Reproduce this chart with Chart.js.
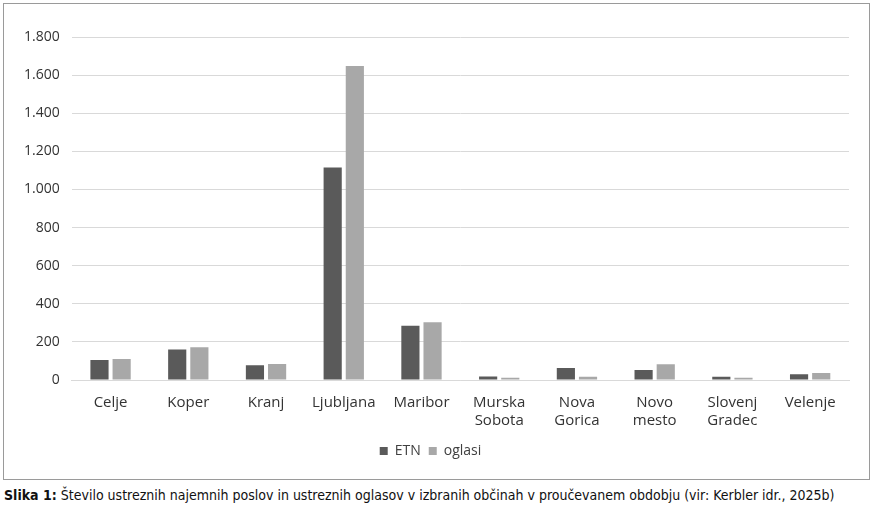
<!DOCTYPE html>
<html>
<head>
<meta charset="utf-8">
<script src="https://cdn.jsdelivr.net/npm/chart.js@4"></script>
<style>
  body { margin: 0; background: #fff; width: 874px; height: 512px; position: relative; overflow: hidden; }
  #frame { position: absolute; left: 3px; top: 3px; width: 865px; height: 475px; border: 1px solid #9a9a9a; }
  #caption { position: absolute; left: 4px; top: 487px; font-family: "Liberation Sans Narrow", "DejaVu Sans Condensed", sans-serif; font-size: 14px; color: #111; white-space: nowrap; }
</style>
</head>
<body>
<div id="frame"><canvas id="chart"></canvas></div>
<div id="caption"><b>Slika 1:</b> Število ustreznih najemnih poslov in ustreznih oglasov v izbranih občinah v proučevanem obdobju (vir: Kerbler idr., 2025b)</div>
<script>
// občine in vrednosti (odčitane s slike)
const obcine = [
  'Celje', 'Koper', 'Kranj', 'Ljubljana', 'Maribor',
  ['Murska', 'Sobota'], ['Nova', 'Gorica'], ['Novo', 'mesto'], ['Slovenj', 'Gradec'], 'Velenje'
];
const etn = [105, 160, 77, 1115, 285, 19, 63, 52, 17, 30];
const oglasi = [110, 172, 84, 1648, 303, 12, 17, 82, 12, 37];
const yTicks = [0, 200, 400, 600, 800, 1000, 1200, 1400, 1600, 1800];

function fmt(v) {
  // slovenski zapis tisočic s piko
  return String(v).replace(/\B(?=(\d{3})+(?!\d))/g, '.');
}

const canvas = document.getElementById('chart');
canvas.width = 865;
canvas.height = 475;

new Chart(canvas, {
  type: 'bar',
  data: {
    labels: obcine,
    datasets: [
      { label: 'ETN', data: etn, backgroundColor: '#5a5a5a' },
      { label: 'oglasi', data: oglasi, backgroundColor: '#a8a8a8' }
    ]
  },
  options: {
    responsive: false,
    animation: false,
    datasets: { bar: { categoryPercentage: 0.57, barPercentage: 0.82 } },
    layout: { padding: { left: 8, right: 20, top: 33, bottom: 11 } },
    plugins: {
      legend: {
        position: 'bottom',
        labels: {
          boxWidth: 8, boxHeight: 8, padding: 8,
          color: '#404040',
          font: { family: 'Open Sans', size: 14 }
        }
      },
      tooltip: { enabled: false }
    },
    scales: {
      x: {
        grid: { display: false },
        border: { color: '#d9d9d9' },
        ticks: {
          color: '#333',
          maxRotation: 0,
          autoSkip: false,
          padding: 6,
          font: { family: 'Open Sans', size: 15 }
        }
      },
      y: {
        min: 0,
        max: 1800,
        afterBuildTicks: function (axis) {
          axis.ticks = yTicks.map(v => ({ value: v }));
        },
        grid: { color: '#d9d9d9', drawTicks: false },
        border: { display: false },
        ticks: {
          color: '#333',
          padding: 12,
          font: { family: 'Open Sans', size: 14 },
          callback: v => fmt(v)
        }
      }
    }
  }
});
</script>
</body>
</html>
